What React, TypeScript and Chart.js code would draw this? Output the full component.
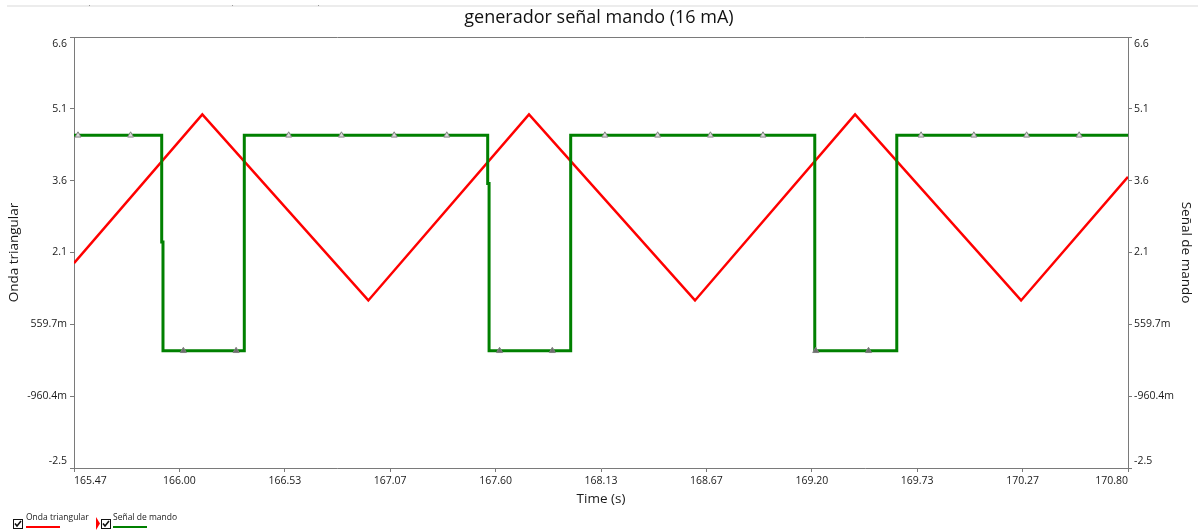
import { useEffect, useRef } from "react";
import { Chart, registerables } from "chart.js";

Chart.register(...registerables);

// ---- texts ----
const chartTitle = "generador señal mando (16 mA)";
const xAxisTitle = "Time (s)";
const leftAxisTitle = "Onda triangular";
const rightAxisTitle = "Señal de mando";

// ---- axis ranges and tick labels ----
const xMin = 165.4667;
const xMax = 170.8;
const yMin = -2.4805;
const yMax = 6.6402;
const xTickLabels = ["165.47", "166.00", "166.53", "167.07", "167.60", "168.13", "168.67", "169.20", "169.73", "170.27", "170.80"];
// ascending order, bottom to top
const yTickLabels = ["-2.5", "-960.4m", "559.7m", "2.1", "3.6", "5.1", "6.6"];

// ---- triangular wave (corners) ----
const triangleTimes = [165.4667, 166.116, 166.956, 167.769, 168.609, 169.419, 170.259, 170.8];
const triangleValues = [1.852, 5.0, 1.065, 5.0, 1.065, 5.0, 1.065, 3.68];

// ---- command signal (value holds from each time until the next) ----
const commandTimes = [165.4667, 165.9105, 165.917, 166.3284, 167.56, 167.567, 167.98, 169.215, 169.63, 170.8];
const commandValues = [4.56, 2.3, 0, 4.56, 3.54, 0, 4.56, 0, 4.56, 4.56];

// ---- sample marks on the command signal ----
const markerTimes = [
  165.487, 165.753, 166.02, 166.287, 166.553, 166.82, 167.087, 167.353, 167.62, 167.887,
  168.153, 168.42, 168.687, 168.953, 169.22, 169.487, 169.753, 170.02, 170.287, 170.553,
];

const FONT = "'Open Sans', 'Noto Sans', sans-serif";
const AXIS_COLOR = "#7a7a7a";
const TEXT_COLOR = "#1a1a1a";
const RED = "#ff0000";
const GREEN = "#008000";

function commandAt(t: number): number {
  let v = commandValues[0];
  for (let i = 0; i < commandTimes.length; i++) {
    if (commandTimes[i] <= t) v = commandValues[i];
  }
  return v;
}

function drawCheckbox(ctx: CanvasRenderingContext2D, x: number, y: number) {
  ctx.fillStyle = "#fff";
  ctx.fillRect(x, y, 9, 9);
  ctx.strokeStyle = "#111";
  ctx.lineWidth = 1;
  ctx.strokeRect(x + 0.5, y + 0.5, 9, 9);
  ctx.lineWidth = 1.6;
  ctx.beginPath();
  ctx.moveTo(x + 2, y + 4.5);
  ctx.lineTo(x + 4, y + 7);
  ctx.lineTo(x + 8, y + 2);
  ctx.stroke();
}

const extrasPlugin = {
  id: "frameLabelsLegend",
  afterDraw(chart: any) {
    const { ctx, chartArea } = chart;
    const { left, right, top, bottom } = chartArea;
    ctx.save();

    // window strip at the very top
    ctx.fillStyle = "#ececec";
    ctx.fillRect(7, 5, 1191, 2);
    ctx.fillStyle = "#9a9a9a";
    [89, 232, 318].forEach((px) => ctx.fillRect(px, 5, 1, 1));

    // top edge of the plot frame
    ctx.strokeStyle = AXIS_COLOR;
    ctx.lineWidth = 1;
    ctx.beginPath();
    ctx.moveTo(left, Math.round(top) + 0.5);
    ctx.lineTo(right, Math.round(top) + 0.5);
    ctx.stroke();

    // value labels on both vertical axes, end labels kept inside the frame
    ctx.font = `10.5px ${FONT}`;
    ctx.fillStyle = TEXT_COLOR;
    ctx.textBaseline = "middle";
    (["y", "y2"] as const).forEach((id) => {
      const scale = chart.scales[id];
      const isLeft = id === "y";
      ctx.textAlign = isLeft ? "right" : "left";
      const lx = isLeft ? left - 7 : right + 6;
      scale.ticks.forEach((t: any, i: number) => {
        const py = scale.getPixelForValue(t.value);
        const ly = Math.min(Math.max(py, top + 7), bottom - 7);
        ctx.fillText(yTickLabels[i], lx, ly);
      });
    });

    // legend with check boxes
    ctx.font = `8.5px ${FONT}`;
    ctx.textAlign = "left";
    ctx.textBaseline = "middle";
    drawCheckbox(ctx, 13, 519);
    ctx.fillStyle = TEXT_COLOR;
    ctx.fillText(leftAxisTitle, 26, 518);
    ctx.fillStyle = RED;
    ctx.fillRect(26, 526, 34, 2);
    ctx.beginPath();
    ctx.moveTo(96, 517);
    ctx.lineTo(100, 523.5);
    ctx.lineTo(96, 530);
    ctx.closePath();
    ctx.fill();

    drawCheckbox(ctx, 101, 519);
    ctx.fillStyle = TEXT_COLOR;
    ctx.fillText(rightAxisTitle, 113, 518);
    ctx.fillStyle = GREEN;
    ctx.fillRect(113, 526, 34, 2);

    ctx.restore();
  },
};

export default function App() {
  const canvasRef = useRef<HTMLCanvasElement | null>(null);

  useEffect(() => {
    const canvas = canvasRef.current;
    if (!canvas) return;

    const triangleData = triangleTimes.map((x, i) => ({ x, y: triangleValues[i] }));
    const commandData = commandTimes.map((x, i) => ({ x, y: commandValues[i] }));
    const markerData = markerTimes.map((x) => ({ x, y: commandAt(x) }));

    const yGrid = { drawOnChartArea: false, drawTicks: true, tickLength: 4, color: AXIS_COLOR };
    const yStep = (yMax - yMin) / (yTickLabels.length - 1);
    const axisTitleFont = { family: FONT, size: 13.5 };

    const chart = new Chart(canvas, {
      type: "line",
      data: {
        datasets: [
          {
            label: leftAxisTitle,
            data: triangleData,
            yAxisID: "y",
            borderColor: RED,
            borderWidth: 2.5,
            pointRadius: 0,
            fill: false,
            tension: 0,
            order: 3,
          },
          {
            label: rightAxisTitle,
            data: commandData,
            yAxisID: "y2",
            borderColor: GREEN,
            borderWidth: 3,
            pointRadius: 0,
            fill: false,
            stepped: "before",
            order: 2,
          },
          {
            label: "muestras",
            data: markerData,
            yAxisID: "y2",
            showLine: false,
            pointStyle: "triangle",
            pointRadius: 3.5,
            pointBorderWidth: 1,
            pointBorderColor: "#808080",
            pointBackgroundColor: (c: any) => (c.raw && c.raw.y < 1 ? "#6e6e6e" : "#dcdcdc"),
            order: 1,
          },
        ],
      },
      options: {
        responsive: false,
        animation: false,
        events: [],
        layout: { padding: 0 },
        plugins: {
          legend: { display: false },
          tooltip: { enabled: false },
          title: {
            display: true,
            text: chartTitle,
            color: "#111",
            font: { family: FONT, size: 18, weight: "normal" },
            padding: { top: 7.2, bottom: 8.2 },
          },
        },
        scales: {
          x: {
            type: "linear",
            min: xMin,
            max: xMax,
            ticks: {
              stepSize: (xMax - xMin) / (xTickLabels.length - 1),
              autoSkip: false,
              maxRotation: 0,
              align: "inner",
              padding: 3,
              color: TEXT_COLOR,
              font: { family: FONT, size: 10.5 },
              callback: (_v: any, i: number) => xTickLabels[i],
            },
            grid: { drawOnChartArea: false, drawTicks: true, tickLength: 4, color: AXIS_COLOR },
            border: { display: true, color: AXIS_COLOR, width: 1 },
            title: {
              display: true,
              text: xAxisTitle,
              color: TEXT_COLOR,
              font: axisTitleFont,
              padding: { top: 0, bottom: 23.9 },
            },
            afterFit: (s: any) => {
              s.height = 63;
            },
          },
          y: {
            type: "linear",
            position: "left",
            min: yMin,
            max: yMax,
            ticks: { display: false, stepSize: yStep },
            grid: yGrid,
            border: { display: true, color: AXIS_COLOR, width: 1 },
            title: {
              display: true,
              text: leftAxisTitle,
              color: TEXT_COLOR,
              font: axisTitleFont,
              padding: { top: 5.9, bottom: 0 },
            },
            afterFit: (s: any) => {
              s.width = 74;
            },
          },
          y2: {
            type: "linear",
            position: "right",
            min: yMin,
            max: yMax,
            ticks: { display: false, stepSize: yStep },
            grid: yGrid,
            border: { display: true, color: AXIS_COLOR, width: 1 },
            title: {
              display: true,
              text: rightAxisTitle,
              color: TEXT_COLOR,
              font: axisTitleFont,
              padding: { top: 3.9, bottom: 0 },
            },
            afterFit: (s: any) => {
              s.width = 70;
            },
          },
        },
      },
      plugins: [extrasPlugin],
    } as any);

    return () => chart.destroy();
  }, []);

  return (
    <div style={{ position: "absolute", left: 0, top: 0, width: 1198, height: 531, background: "#fff" }}>
      <canvas ref={canvasRef} width={1198} height={531} style={{ display: "block", width: 1198, height: 531 }} />
    </div>
  );
}
